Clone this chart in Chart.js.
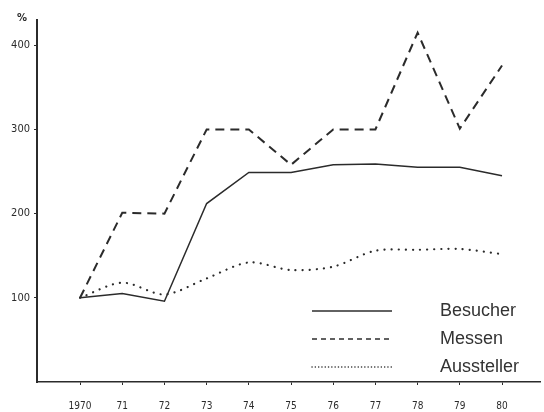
<!DOCTYPE html>
<html>
<head>
<meta charset="utf-8">
<script src="https://cdn.jsdelivr.net/npm/chart.js@4/dist/chart.umd.min.js"></script>
<style>
  html, body { margin: 0; padding: 0; background: #fff; }
  #wrap { width: 544px; height: 412px; position: relative; }
</style>
</head>
<body>
<div id="wrap"><canvas id="lineChart"></canvas></div>
<script>
// x positions 0..10 = 1970..1980
const years = ['1970', '71', '72', '73', '74', '75', '76', '77', '78', '79', '80'];
const besucher = [100, 105, 96, 212, 249, 249, 258, 259, 255, 255, 245];
const messen = [100, 201, 200, 300, 300, 258, 300, 300, 415, 301, 376];
const aussteller = [100, 118, 104, 123, 142, 133, 137, 156, 157, 158, 152];
const yTicks = [100, 200, 300, 400];

const ink = '#2b2b2b';
const tickFont = { family: '"DejaVu Sans Condensed", "DejaVu Sans", sans-serif', size: 10 };

const toPoints = arr => arr.map((v, i) => ({ x: i, y: v }));

// legend drawn inside the plot, bottom right (finer samples than the plot lines)
const legendDash = [[], [5, 4], [0.1, 3.2]];
const innerLegend = {
    id: 'innerLegend',
    afterDraw(chart) {
        const ctx = chart.ctx;
        const x0 = 312, x1 = 392, tx = 440;
        let y = 311;
        ctx.save();
        chart.data.datasets.forEach((ds, i) => {
            ctx.strokeStyle = '#2e2e2e';
            ctx.lineWidth = i === 2 ? 1.5 : 1.3;
            ctx.lineCap = i === 2 ? 'round' : 'butt';
            ctx.setLineDash(legendDash[i]);
            ctx.beginPath();
            ctx.moveTo(x0, y);
            ctx.lineTo(x1, y);
            ctx.stroke();
            ctx.setLineDash([]);
            ctx.fillStyle = '#333';
            ctx.font = '18px "Liberation Sans", Arial, sans-serif';
            ctx.textBaseline = 'middle';
            ctx.fillText(ds.label, tx, y);
            y += 28;
        });
        // percent sign above the y axis
        ctx.font = 'bold 10px "DejaVu Sans", sans-serif';
        ctx.fillStyle = ink;
        ctx.fillText('%', 17, 18);
        ctx.restore();
    }
};

const lineChart = new Chart(document.getElementById('lineChart').getContext('2d'), {
    type: 'line',
    data: {
        datasets: [{
            label: 'Besucher',
            data: toPoints(besucher),
            borderColor: ink,
            borderWidth: 1.5,
            pointRadius: 0,
            tension: 0
        }, {
            label: 'Messen',
            data: toPoints(messen),
            borderColor: ink,
            borderWidth: 2,
            borderDash: [9, 6],
            pointRadius: 0,
            tension: 0
        }, {
            label: 'Aussteller',
            data: toPoints(aussteller),
            borderColor: ink,
            borderWidth: 2.2,
            borderDash: [0.1, 7],
            borderCapStyle: 'round',
            pointRadius: 0,
            tension: 0.3
        }]
    },
    options: {
        responsive: true,
        maintainAspectRatio: false,
        animation: false,
        layout: { padding: { top: 20, right: 4, left: 0, bottom: 0 } },
        plugins: {
            legend: { display: false },
            tooltip: { enabled: false }
        },
        scales: {
            x: {
                type: 'linear',
                min: -1.02,
                max: 10.9,
                afterBuildTicks: s => { s.ticks = years.map((_, i) => ({ value: i })); },
                afterFit: s => { s.height = 30; },
                border: { display: true, color: ink, width: 1.5 },
                grid: { drawOnChartArea: false, drawTicks: true, tickLength: 3, color: ink },
                ticks: {
                    callback: v => years[v] ?? '',
                    color: ink,
                    padding: 15,
                    maxRotation: 0,
                    font: tickFont
                }
            },
            y: {
                min: 0,
                max: 430,
                afterBuildTicks: s => { s.ticks = yTicks.map(v => ({ value: v })); },
                afterFit: s => { s.width = 37; },
                border: { display: true, color: ink, width: 2 },
                grid: { drawOnChartArea: false, drawTicks: true, tickLength: 3, color: ink },
                ticks: {
                    color: ink,
                    padding: 4,
                    font: { family: '"DejaVu Sans Condensed", "DejaVu Sans", sans-serif', size: 11 }
                }
            }
        }
    },
    plugins: [innerLegend]
});
</script>
</body>
</html>
